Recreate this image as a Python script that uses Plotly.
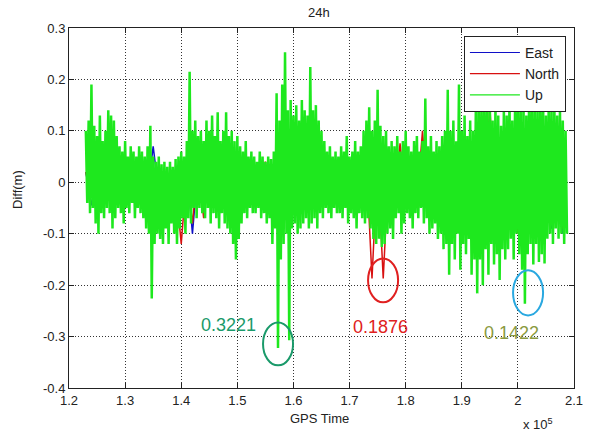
import plotly.graph_objects as go

# ---------------- data ----------------
# Up component: per-bin max / min, bins every 500 s starting at 123000 s
up_t0 = 123000
up_step = 500
up_hi = [
    0.10, 0.12, 0.19, 0.11, 0.09, 0.13, 0.08, 0.10, 0.14, 0.13,
    0.12, 0.09, 0.07, 0.06, 0.08, 0.05, 0.07, 0.06, 0.05, 0.07,
    0.06, 0.05, 0.07, 0.11, 0.05, 0.04, 0.05, 0.035, 0.04, 0.03,
    0.04, 0.03, 0.045, 0.05, 0.06, 0.05, 0.08, 0.215, 0.10, 0.12,
    0.09, 0.10, 0.08, 0.12, 0.10, 0.13, 0.09, 0.136, 0.08, 0.10,
    0.136, 0.09, 0.10, 0.08, 0.09, 0.07, 0.06, 0.08, 0.05, 0.06,
    0.05, 0.04, 0.06, 0.05, 0.04, 0.05, 0.045, 0.06, 0.173, 0.12,
    0.19, 0.253, 0.14, 0.16, 0.13, 0.15, 0.12, 0.16, 0.14, 0.13,
    0.224, 0.14, 0.15, 0.12, 0.10, 0.08, 0.06, 0.07, 0.05, 0.06,
    0.05, 0.07, 0.06, 0.09, 0.05, 0.06, 0.08, 0.06, 0.07, 0.10,
    0.12, 0.146, 0.10, 0.12, 0.18, 0.11, 0.09, 0.10, 0.07, 0.08,
    0.07, 0.09, 0.06, 0.08, 0.10, 0.07, 0.06, 0.08, 0.09, 0.06,
    0.08, 0.163, 0.07, 0.09, 0.06, 0.08, 0.07, 0.09, 0.10, 0.18,
    0.10, 0.12, 0.08, 0.19, 0.10, 0.13, 0.09, 0.12, 0.10, 0.14,
    0.17, 0.15, 0.18, 0.14, 0.16, 0.12, 0.15, 0.13, 0.11, 0.14,
    0.13, 0.16, 0.12, 0.15, 0.17, 0.14, 0.16, 0.13, 0.17, 0.15,
    0.16, 0.14, 0.17, 0.15, 0.13, 0.16, 0.14, 0.15, 0.13, 0.14, 0.12, 0.10,
]
up_lo = [
    -0.04, -0.06, -0.05, -0.08, -0.10, -0.06, -0.07, -0.05, -0.06, -0.09,
    -0.07, -0.05, -0.06, -0.08, -0.05, -0.06, -0.04, -0.07, -0.05, -0.06,
    -0.07, -0.09, -0.10, -0.226, -0.12, -0.10, -0.11, -0.12, -0.09, -0.12,
    -0.08, -0.10, -0.12, -0.09, -0.07, -0.10, -0.07, -0.08, -0.05, -0.07,
    -0.05, -0.06, -0.07, -0.05, -0.08, -0.06, -0.07, -0.09, -0.06, -0.08,
    -0.09, -0.10, -0.12, -0.15, -0.11, -0.08, -0.06, -0.07, -0.05, -0.06,
    -0.06, -0.05, -0.07, -0.06, -0.08, -0.07, -0.12, -0.09, -0.322, -0.15,
    -0.12, -0.10, -0.307, -0.09, -0.08, -0.10, -0.09, -0.08, -0.07, -0.09,
    -0.08, -0.07, -0.09, -0.06, -0.07, -0.05, -0.06, -0.07, -0.05, -0.06,
    -0.06, -0.07, -0.05, -0.08, -0.06, -0.07, -0.09, -0.06, -0.07, -0.08,
    -0.07, -0.09, -0.11, -0.12, -0.11, -0.126, -0.12, -0.10, -0.09, -0.11,
    -0.07, -0.06, -0.10, -0.08, -0.06, -0.07, -0.09, -0.06, -0.07, -0.05,
    -0.08, -0.07, -0.10, -0.09, -0.08, -0.11, -0.10, -0.13, -0.12, -0.18,
    -0.12, -0.15, -0.10, -0.17, -0.12, -0.14, -0.11, -0.18, -0.15, -0.216,
    -0.15, -0.20, -0.13, -0.18, -0.12, -0.16, -0.14, -0.19, -0.13, -0.15,
    -0.13, -0.11, -0.15, -0.10, -0.14, -0.17, -0.236, -0.14, -0.12, -0.16,
    -0.12, -0.155, -0.14, -0.158, -0.11, -0.10, -0.12, -0.09, -0.11, -0.10, -0.12, -0.10,
]

# East / North components: per-bin max / min, bins every 2000 s from 123000 s
en_t0 = 123000
en_step = 2000
east_hi = [0.02, 0.02, 0.03, 0.02, 0.02, 0.04, 0.07, 0.02, 0.01, 0.03, 0.03,
           0.04, 0.03, 0.02, 0.02, 0.02, 0.03, 0.05, 0.04, 0.05, 0.04, 0.03,
           0.02, 0.02, 0.03, 0.03, 0.04, 0.03, 0.03, 0.02, 0.03, 0.03, 0.05,
           0.04, 0.04, 0.05, 0.06, 0.08, 0.05, 0.05, 0.05, 0.04, 0.04]
east_lo = [-0.045, -0.03, -0.03, -0.03, -0.03, -0.02, -0.02, -0.01, -0.06, -0.10, -0.06,
           -0.04, -0.04, -0.03, -0.03, -0.03, -0.04, -0.05, -0.05, -0.04, -0.04, -0.03,
           -0.03, -0.03, -0.04, -0.04, -0.05, -0.04, -0.04, -0.03, -0.04, -0.05, -0.05,
           -0.05, -0.06, -0.07, -0.07, -0.06, -0.07, -0.08, -0.07, -0.09, -0.10]
north_hi = [0.02, 0.03, 0.02, 0.02, 0.02, 0.02, 0.03, 0.01, 0.00, 0.02, 0.03,
            0.04, 0.03, 0.02, 0.02, 0.03, 0.04, 0.06, 0.05, 0.05, 0.04, 0.02,
            0.02, 0.03, 0.03, 0.04, 0.04, 0.03, 0.076, 0.03, 0.10, 0.03, 0.04,
            0.04, 0.05, 0.06, 0.15, 0.06, 0.05, 0.06, 0.06, 0.08, 0.08]
north_lo = [-0.03, -0.03, -0.03, -0.03, -0.03, -0.02, -0.03, -0.02, -0.12, -0.08, -0.07,
            -0.04, -0.04, -0.04, -0.03, -0.03, -0.03, -0.04, -0.05, -0.04, -0.04, -0.025,
            -0.03, -0.03, -0.04, -0.187, -0.187, -0.05, -0.05, -0.04, -0.05, -0.05, -0.06,
            -0.06, -0.07, -0.07, -0.08, -0.10, -0.10, -0.08, -0.07, -0.08, -0.09]

series_names = ["East", "North", "Up"]
x_tick_vals = [120000, 130000, 140000, 150000, 160000, 170000, 180000, 190000, 200000, 210000]
x_tick_text = ["1.2", "1.3", "1.4", "1.5", "1.6", "1.7", "1.8", "1.9", "2", "2.1"]
y_tick_vals = [-0.4, -0.3, -0.2, -0.1, 0, 0.1, 0.2, 0.3]
y_tick_text = ["-0.4", "-0.3", "-0.2", "-0.1", "0", "0.1", "0.2", "0.3"]

# ---------------- helpers ----------------
def zigzag(t0, step, hi, lo):
    xs, ys = [], []
    for i, (h, l) in enumerate(zip(hi, lo)):
        t = t0 + i * step
        xs += [t, t + step / 2]
        ys += [h, l]
    return xs, ys

GREEN = "#1ee81e"
BLUE = "#1010c8"
RED = "#d81010"
COLORS = [BLUE, RED, GREEN]
FONT = "Liberation Sans, Arial, sans-serif"

fig = go.Figure()

ex, ey = zigzag(en_t0, en_step, east_hi, east_lo)
fig.add_trace(go.Scatter(x=ex, y=ey, mode="lines", name="East", showlegend=False,
                         line=dict(color=BLUE, width=1.5)))
nx, ny = zigzag(en_t0, en_step, north_hi, north_lo)
fig.add_trace(go.Scatter(x=nx, y=ny, mode="lines", name="North", showlegend=False,
                         line=dict(color=RED, width=1.5)))
ux, uy = zigzag(up_t0, up_step, up_hi, up_lo)
fig.add_trace(go.Scatter(x=ux, y=uy, mode="lines", name="Up", showlegend=False,
                         line=dict(color=GREEN, width=2.5)))

# legend entries with thin line samples
for name, col in zip(series_names, COLORS):
    fig.add_trace(go.Scatter(x=[None], y=[None], mode="lines", name=name,
                             line=dict(color=col, width=1.2)))

axis_common = dict(showline=True, linecolor="#222", linewidth=1, mirror="ticks",
                   ticks="inside", ticklen=5, tickcolor="#222",
                   showgrid=True, gridcolor="#333", griddash="1px,2px", gridwidth=1,
                   zeroline=False, tickfont=dict(family=FONT, size=13, color="#222"))

fig.update_xaxes(range=[120000, 210000], tickvals=x_tick_vals, ticktext=x_tick_text,
                 **axis_common)
fig.update_yaxes(range=[-0.4, 0.3], tickvals=y_tick_vals, ticktext=y_tick_text,
                 **axis_common)

fig.update_layout(
    width=594, height=433,
    margin=dict(l=69, r=20, t=28, b=45),
    paper_bgcolor="white", plot_bgcolor="white",
    font=dict(family=FONT, color="#222"),
    showlegend=True,
    legend=dict(x=0.984, y=0.978, xanchor="right", yanchor="top",
                bgcolor="white", bordercolor="#222", borderwidth=1,
                font=dict(family=FONT, size=14, color="#222"),
                tracegroupgap=0, itemwidth=50),
)

# titles and labels
fig.add_annotation(text="24h", xref="paper", yref="paper", x=0.496, y=1.0,
                   yanchor="bottom", yshift=6, showarrow=False,
                   font=dict(family=FONT, size=13, color="#222"))
fig.add_annotation(text="GPS Time", xref="paper", yref="paper", x=0.497, y=0,
                   yanchor="top", yshift=-21, showarrow=False,
                   font=dict(family=FONT, size=13, color="#222"))
fig.add_annotation(text="Diff(m)", xref="paper", yref="paper", x=0, y=0.55,
                   xanchor="center", xshift=-51, textangle=-90, showarrow=False,
                   font=dict(family=FONT, size=13, color="#222"))
fig.add_annotation(text="x 10<sup>5</sup>", xref="paper", yref="paper", x=0.962, y=0,
                   yanchor="top", yshift=-26, showarrow=False,
                   font=dict(family=FONT, size=13, color="#222"))

# highlighted minima
marks = [
    ("0.3221", 148340, -0.278, "#1a9a6a", (154580, 159930, -0.356, -0.2724), "#1a9a6a"),
    ("0.1876", 175440, -0.282, "#e02020", (173300, 178650, -0.2335, -0.148), "#e02020"),
    ("0.1422", 198790, -0.2938, "#8a9a40", (199140, 204490, -0.2588, -0.171), "#29a8e0"),
]
for txt, tx, ty, tc, (x0, x1, y0, y1), ec in marks:
    fig.add_annotation(text=txt, x=tx, y=ty, showarrow=False,
                       font=dict(family=FONT, size=18, color=tc))
    fig.add_shape(type="circle", xref="x", yref="y", x0=x0, x1=x1, y0=y0, y1=y1,
                  line=dict(color=ec, width=2))

fig.write_html("out.html", post_script="document.body.style.margin='0';",
               config={"displayModeBar": False})
